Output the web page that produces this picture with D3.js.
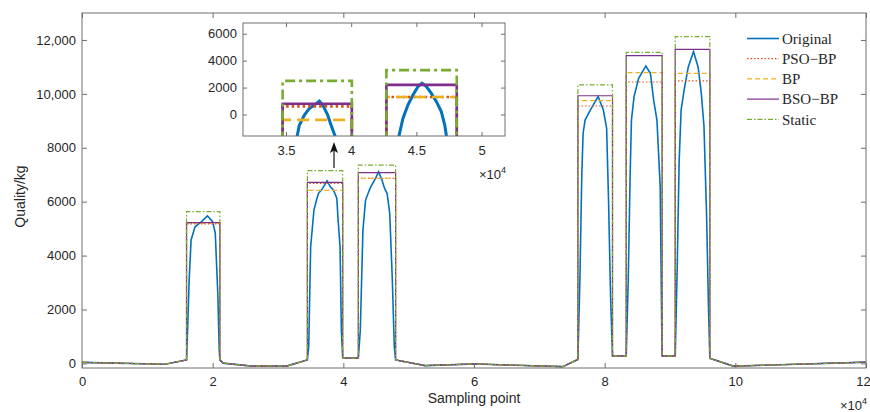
<!DOCTYPE html>
<html>
<head>
<meta charset="utf-8">
<script src="https://cdn.jsdelivr.net/npm/d3@7"></script>
<style>
  body { margin: 0; background: #fff; }
  svg text { font-family: "Liberation Sans", Arial, sans-serif; fill: #262626; }
  .legend text { font-family: "Liberation Serif", "Times New Roman", serif; }
</style>
</head>
<body>
<div id="chart-area"></div>
<script>
// ---- data (x in units of 10^4 sampling points, y in kg) ----
const seriesNames = ["Original", "PSO\u2212BP", "BP", "BSO\u2212BP", "Static"]

// measured curve
const original = [
  [0, 40], [1.27, -30], [1.6, 130], [1.62, 1500], [1.64, 3100], [1.67, 4580], [1.73, 5070], [1.83, 5260],
  [1.92, 5470], [2.0, 5260], [2.04, 4830], [2.08, 2500], [2.1, 500], [2.11, 130], [2.16, 10], [2.6, -100],
  [3.13, -100], [3.45, 130], [3.47, 620], [3.5, 4330], [3.55, 5690], [3.59, 6060], [3.62, 6310], [3.67, 6450],
  [3.72, 6640], [3.75, 6770], [3.8, 6560], [3.85, 6430], [3.9, 6130], [3.92, 5320], [3.95, 4330], [3.97, 1240],
  [3.99, 200], [4.23, 200], [4.26, 1240], [4.3, 4950], [4.34, 6060], [4.38, 6310], [4.41, 6500], [4.45, 6680],
  [4.5, 6900], [4.54, 7110], [4.59, 6810], [4.63, 6500], [4.67, 6300], [4.69, 5950], [4.71, 5570], [4.75, 3100],
  [4.78, 620], [4.8, 130], [5.25, -80], [6.0, -20], [7.36, -120], [7.59, 150], [7.62, 3000], [7.65, 7000],
  [7.67, 8540], [7.7, 9030], [7.78, 9400], [7.9, 9900], [7.98, 9400], [8.03, 8720], [8.06, 6000], [8.09, 2500],
  [8.12, 280], [8.33, 280], [8.36, 3000], [8.39, 7000], [8.41, 9030], [8.45, 9900], [8.52, 10580], [8.63, 11035],
  [8.7, 10760], [8.75, 9770], [8.8, 9030], [8.85, 6560], [8.87, 2000], [8.88, 280], [9.08, 280], [9.11, 3500],
  [9.14, 7500], [9.17, 9400], [9.22, 10200], [9.28, 11000], [9.36, 11570], [9.43, 11000], [9.48, 10000],
  [9.52, 8800], [9.56, 5500], [9.59, 2000], [9.61, 190], [9.97, -100], [11.9, 40], [12, 50]
]

// baseline shared by the step series outside the weighing windows
const baseline = [
  [0, 40], [1.27, -30], [1.6, 130], [2.11, 130], [2.16, 10], [2.6, -100], [3.13, -100], [3.45, 130],
  [3.99, 200], [4.23, 200], [4.8, 130], [5.25, -80], [6.0, -20], [7.36, -120], [7.59, 150], [8.12, 280],
  [8.33, 280], [8.88, 280], [9.08, 280], [9.61, 190], [9.97, -100], [11.9, 40], [12, 50]
]

const windowStart = [1.6, 3.45, 4.23, 7.59, 8.33, 9.08]
const windowEnd = [2.11, 3.99, 4.8, 8.12, 8.88, 9.61]
const psoLevels = [5180, 6680, 6870, 9550, 10440, 10480]
const bpLevels = [5200, 6420, 6870, 9750, 10790, 10760]
const bsoLevels = [5220, 6720, 7080, 9930, 11420, 11650]
const staticLevels = [5630, 7150, 7360, 10330, 11540, 12120]

// inset (zoomed view)
const insetOriginalA = [
  [3.585, -1625], [3.602, -800], [3.641, -50], [3.679, 450], [3.718, 700], [3.756, 1000],
  [3.782, 700], [3.82, -50], [3.846, -800], [3.877, -1625]
]
const insetOriginalB = [
  [4.366, -1625], [4.397, -300], [4.435, 700], [4.474, 1450], [4.512, 2070], [4.543, 2320], [4.577, 2070],
  [4.615, 1570], [4.654, 950], [4.692, 200], [4.718, -800], [4.731, -1625]
]
const insetStart = [3.474, 4.27]
const insetEnd = [4.005, 4.81]
const insetPso = [600, 1300]
const insetBp = [-400, 1300]
const insetBso = [800, 2200]
const insetStatic = [2500, 3300]

const xTicks = [0, 2, 4, 6, 8, 10, 12]
const yTicks = [0, 2000, 4000, 6000, 8000, 10000, 12000]
const yTickLabels = ["0", "2000", "4000", "6000", "8000", "10,000", "12,000"]
const insetXTicks = [3.5, 4, 4.5, 5]
const insetYTicks = [0, 2000, 4000, 6000]

// ---- layout ----
const W = 870, H = 412
const PLOT = { LEFT: 82, RIGHT: 866, TOP: 13, BOTTOM: 368 }
const INSET = { LEFT: 243, RIGHT: 505, TOP: 23, BOTTOM: 136 }
const colors = ["#0072BD", "#D95319", "#EDB120", "#7E2F8E", "#77AC30"]
const dashes = [null, "1.5,2", "5,3", null, "5,2,1.5,2"]
const insetDashes = [null, "2.5,3", "12,6", null, "10,4,3,4"]
const axisColor = "#6e6e6e"

const svg = d3.select("#chart-area").append("svg")
  .attr("width", W).attr("height", H)

const x = d3.scaleLinear().domain([0, 12]).range([PLOT.LEFT, PLOT.RIGHT])
const y = d3.scaleLinear().domain([-170, 13000]).range([PLOT.BOTTOM, PLOT.TOP])

// build a step series from baseline + levels in each window
const stepSeries = (levels, starts, ends, base) => {
  const pts = []
  base.forEach(p => {
    pts.push(p)
    const i = starts.indexOf(p[0])
    if (i >= 0) {
      pts.push([starts[i], levels[i]])
      pts.push([ends[i], levels[i]])
    }
  })
  return pts
}

svg.append("clipPath").attr("id", "clipMain").append("rect")
  .attr("x", PLOT.LEFT).attr("y", PLOT.TOP)
  .attr("width", PLOT.RIGHT - PLOT.LEFT).attr("height", PLOT.BOTTOM - PLOT.TOP)

const line = d3.line().x(d => x(d[0])).y(d => y(d[1]))

const mainSeries = [
  original,
  stepSeries(psoLevels, windowStart, windowEnd, baseline),
  stepSeries(bpLevels, windowStart, windowEnd, baseline),
  stepSeries(bsoLevels, windowStart, windowEnd, baseline),
  stepSeries(staticLevels, windowStart, windowEnd, baseline)
]

const gMain = svg.append("g").attr("clip-path", "url(#clipMain)")
mainSeries.forEach((pts, i) => {
  gMain.append("path")
    .attr("d", line(pts))
    .attr("fill", "none")
    .attr("stroke", colors[i])
    .attr("stroke-width", i === 0 ? 1.6 : 1.2)
    .attr("stroke-dasharray", dashes[i])
})

// axes with inward ticks on all four sides
const styleAxis = g => {
  g.select(".domain").remove()
  g.selectAll(".tick line").attr("stroke", axisColor)
  g.selectAll(".tick text").attr("font-size", "13px").attr("fill", "#262626")
}

const xAxisGroup = svg.append("g").attr("transform", `translate(0,${PLOT.BOTTOM})`)
  .call(d3.axisBottom(x).tickValues(xTicks).tickSize(-5).tickPadding(9).tickFormat(d3.format("d")))
  .call(styleAxis)
// last label sits at the window edge, keep it inside
xAxisGroup.selectAll(".tick text").filter(d => d === 12).attr("dx", "-3")

svg.append("g").attr("transform", `translate(0,${PLOT.TOP})`)
  .call(d3.axisTop(x).tickValues(xTicks).tickSize(-5).tickFormat(""))
  .call(styleAxis)
svg.append("g").attr("transform", `translate(${PLOT.LEFT},0)`)
  .call(d3.axisLeft(y).tickValues(yTicks).tickSize(-5).tickPadding(6)
    .tickFormat((d, i) => yTickLabels[i]))
  .call(styleAxis)
svg.append("g").attr("transform", `translate(${PLOT.RIGHT},0)`)
  .call(d3.axisRight(y).tickValues(yTicks).tickSize(-5).tickFormat(""))
  .call(styleAxis)

svg.append("rect")
  .attr("x", PLOT.LEFT).attr("y", PLOT.TOP)
  .attr("width", PLOT.RIGHT - PLOT.LEFT).attr("height", PLOT.BOTTOM - PLOT.TOP)
  .attr("fill", "none").attr("stroke", axisColor).attr("stroke-width", 1)

// axis labels
svg.append("text")
  .attr("x", (PLOT.LEFT + PLOT.RIGHT) / 2).attr("y", 403)
  .attr("text-anchor", "middle").attr("font-size", "14px")
  .text("Sampling point")

svg.append("text")
  .attr("transform", `translate(25,${(PLOT.TOP + PLOT.BOTTOM) / 2 + 6}) rotate(-90)`)
  .attr("text-anchor", "middle").attr("font-size", "14px")
  .text("Quality/kg")

const exponent = (g, xr, yb) => {
  const t = g.append("text").attr("x", xr).attr("y", yb).attr("text-anchor", "end").attr("font-size", "13px")
  t.append("tspan").text("\u00d710")
  t.append("tspan").attr("font-size", "9px").attr("dy", "-6").text("4")
}
exponent(svg, 867, 410)

// legend
const legend = svg.append("g").attr("class", "legend")
seriesNames.forEach((name, i) => {
  const ly = 38.5 + i * 20.2
  legend.append("line")
    .attr("x1", 747).attr("x2", 779).attr("y1", ly).attr("y2", ly)
    .attr("stroke", colors[i]).attr("stroke-width", i === 0 ? 1.6 : 1.2)
    .attr("stroke-dasharray", dashes[i])
  legend.append("text")
    .attr("x", 782).attr("y", ly).attr("dy", "0.35em")
    .attr("font-size", "15px")
    .text(name)
})

// ---- inset ----
const xi = d3.scaleLinear().domain([3.17, 5.18]).range([INSET.LEFT, INSET.RIGHT])
const yi = d3.scaleLinear().domain([-1600, 6800]).range([INSET.BOTTOM, INSET.TOP])
const lineI = d3.line().x(d => xi(d[0])).y(d => yi(d[1]))

svg.append("rect")
  .attr("x", INSET.LEFT).attr("y", INSET.TOP)
  .attr("width", INSET.RIGHT - INSET.LEFT).attr("height", INSET.BOTTOM - INSET.TOP)
  .attr("fill", "#fff")

svg.append("clipPath").attr("id", "clipInset").append("rect")
  .attr("x", INSET.LEFT).attr("y", INSET.TOP)
  .attr("width", INSET.RIGHT - INSET.LEFT).attr("height", INSET.BOTTOM - INSET.TOP)

const gIn = svg.append("g").attr("clip-path", "url(#clipInset)")
const bottomI = -2000
const insetBox = (levels, i) => [
  [insetStart[i], bottomI], [insetStart[i], levels[i]], [insetEnd[i], levels[i]], [insetEnd[i], bottomI]
]
const insetLevels = [null, insetPso, insetBp, insetBso, insetStatic]
;[0, 1].forEach(k => {
  gIn.append("path").attr("d", lineI(k === 0 ? insetOriginalA : insetOriginalB))
    .attr("fill", "none").attr("stroke", colors[0]).attr("stroke-width", 3)
  for (let s = 1; s < 5; s++) {
    gIn.append("path").attr("d", lineI(insetBox(insetLevels[s], k)))
      .attr("fill", "none").attr("stroke", colors[s]).attr("stroke-width", 2.6)
      .attr("stroke-dasharray", insetDashes[s])
  }
})

svg.append("g").attr("transform", `translate(0,${INSET.BOTTOM})`)
  .call(d3.axisBottom(xi).tickValues(insetXTicks).tickSize(-4).tickPadding(10).tickFormat(d => d))
  .call(styleAxis)
svg.append("g").attr("transform", `translate(0,${INSET.TOP})`)
  .call(d3.axisTop(xi).tickValues(insetXTicks).tickSize(-4).tickFormat(""))
  .call(styleAxis)
svg.append("g").attr("transform", `translate(${INSET.LEFT},0)`)
  .call(d3.axisLeft(yi).tickValues(insetYTicks).tickSize(-4).tickPadding(6).tickFormat(d => d))
  .call(styleAxis)
svg.append("g").attr("transform", `translate(${INSET.RIGHT},0)`)
  .call(d3.axisRight(yi).tickValues(insetYTicks).tickSize(-4).tickFormat(""))
  .call(styleAxis)

svg.append("rect")
  .attr("x", INSET.LEFT).attr("y", INSET.TOP)
  .attr("width", INSET.RIGHT - INSET.LEFT).attr("height", INSET.BOTTOM - INSET.TOP)
  .attr("fill", "none").attr("stroke", axisColor)

exponent(svg, 506, 179)

// arrow pointing at the zoomed peak
svg.append("line")
  .attr("x1", 334).attr("x2", 334).attr("y1", 168).attr("y2", 150)
  .attr("stroke", "#111").attr("stroke-width", 1.2)
svg.append("path")
  .attr("d", "M334,142 L338,153 L334,150.5 L330,153 Z")
  .attr("fill", "#111")
</script>
</body>
</html>
